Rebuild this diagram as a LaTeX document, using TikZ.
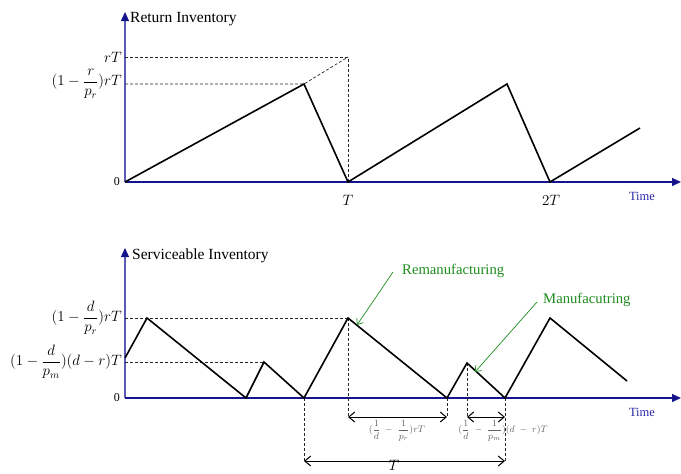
\RequirePackage{fix-cm}
\documentclass[tikz,border=0pt]{standalone}
\usepackage{amsmath}
\usepackage{fontspec}
\setmainfont{Liberation Serif}
\usetikzlibrary{arrows.meta}
\definecolor{axisblue}{RGB}{20,20,140}
\definecolor{yaxblue}{RGB}{90,90,180}
\definecolor{lblgreen}{RGB}{30,140,30}
\definecolor{timeblue}{RGB}{40,40,170}
\definecolor{dimgray}{RGB}{100,100,100}
\tikzset{
  xaxis/.style={axisblue,line width=1.3pt,-{Triangle[length=9pt,width=8pt,color=axisblue]}},
  yaxis/.style={yaxblue,line width=1.3pt,-{Triangle[length=9pt,width=8pt,color=axisblue]}},
  curve/.style={black,line width=1.6pt,line join=miter},
  guide/.style={black!85,line width=0.7pt,dash pattern=on 3pt off 2pt},
  dimarrow/.style={black,line width=1pt,{Straight Barb[length=6pt,width=10pt]}-{Straight Barb[length=6pt,width=10pt]}},
  callout/.style={lblgreen,line width=0.7pt,-{Straight Barb[length=5pt,width=8pt]}},
  axtitle/.style={font=\fontsize{15.5}{18}\selectfont,anchor=west,inner sep=0pt},
  ylab/.style={font=\fontsize{15}{18}\selectfont,anchor=east,inner sep=1pt},
  zerolab/.style={font=\fontsize{12}{14}\selectfont,anchor=east,inner sep=1pt},
  tlab/.style={font=\fontsize{15}{18}\selectfont,inner sep=0pt},
  timelab/.style={font=\fontsize{12.5}{14}\selectfont,text=timeblue,inner sep=0pt},
  greenlab/.style={font=\fontsize{14.7}{17}\selectfont,text=lblgreen,anchor=west,inner sep=0pt},
  smalllab/.style={font=\fontsize{9.5}{11}\selectfont,text=dimgray,inner sep=0pt}
}
\begin{document}
\begin{tikzpicture}[x=1pt,y=-1pt]
\useasboundingbox (0,0) rectangle (681,474);
% ---------- top panel ----------
\coordinate (o1) at (125,182);
\coordinate (y1top) at (125,12);
\coordinate (x1end) at (681,182);
\draw[yaxis] (o1) -- (y1top);
\draw[xaxis] (o1) -- (x1end);
\node[axtitle] (t1) at (130,19) {Return Inventory};
\coordinate (a1) at (304,84);
\coordinate (a2) at (348,182);
\coordinate (a3) at (507,84);
\coordinate (a4) at (550,182);
\coordinate (a5) at (640,128);
\coordinate (rt) at (348,57);
\coordinate (rty) at (125,57);
\coordinate (prty) at (125,84);
\draw[guide] (rty) -- (rt) -- (a2);
\draw[guide] (prty) -- (a1) -- (rt);
\draw[curve] (o1) -- (a1) -- (a2) -- (a3) -- (a4) -- (a5);
\node[ylab] (lrt) at (123,57) {$rT$};
\node[ylab] (lprt) at (123,84) {$(1-\dfrac{r}{p_r})rT$};
\node[zerolab] (z1) at (121,182) {0};
\node[tlab] (T1) at (348,200) {$T$};
\node[tlab] (T2) at (551,200) {$2T$};
\node[timelab] (tm1) at (642,196) {Time};
% ---------- bottom panel ----------
\coordinate (o2) at (125,398);
\coordinate (y2top) at (125,248);
\coordinate (x2end) at (681,398);
\draw[yaxis] (o2) -- (y2top);
\draw[xaxis] (o2) -- (x2end);
\node[axtitle] (t2) at (132,256) {Serviceable Inventory};
\coordinate (b0) at (125,358);
\coordinate (b1) at (147,318);
\coordinate (b2) at (246,398);
\coordinate (b3) at (264,362);
\coordinate (b4) at (304,398);
\coordinate (b5) at (348,318);
\coordinate (b6) at (447,398);
\coordinate (b7) at (467,363);
\coordinate (b8) at (505,398);
\coordinate (b9) at (550,318);
\coordinate (b10) at (627,381);
\coordinate (h1) at (125,318);
\coordinate (h2) at (125,362);
\draw[guide] (h1) -- (b5);
\draw[guide] (h2) -- (b3);
\coordinate (d5) at (348,417);
\coordinate (d6) at (447,417);
\coordinate (d7) at (467,417);
\coordinate (d8) at (505,417);
\coordinate (e4) at (304,461);
\coordinate (e8) at (505,461);
\draw[guide] (b5) -- (d5);
\draw[guide] (b6) -- (d6);
\draw[guide] (b7) -- (d7);
\draw[guide] (b8) -- (e8);
\draw[guide] (b4) -- (e4);
\draw[curve] (b0) -- (b1) -- (b2) -- (b3) -- (b4) -- (b5) -- (b6) -- (b7) -- (b8) -- (b9) -- (b10);
\draw[dimarrow] (d5) -- (d6);
\draw[dimarrow] (d7) -- (d8);
\draw[dimarrow] (e4) -- (e8);
\node[ylab] (lh1) at (123,318) {$(1-\dfrac{d}{p_r})rT$};
\node[ylab] (lh2) at (123,362) {$(1-\dfrac{d}{p_m})(d-r)T$};
\node[zerolab] (z2) at (121,398) {0};
\node[timelab] (tm2) at (642,412) {Time};
\node[smalllab] (m1) at (397,431) {$(\dfrac{1}{d}\;-\;\dfrac{1}{p_r})rT$};
\node[smalllab] (m2) at (503,431) {$(\dfrac{1}{d}\;-\;\dfrac{1}{p_m})(d\;-\;r)T$};
\node[tlab] (TT) at (394,465) {$T$};
\node[greenlab] (rem) at (402,271) {Remanufacturing};
\node[greenlab] (man) at (543,300) {Manufacutring};
\coordinate (remfrom) at (393,272);
\coordinate (remto) at (357,325);
\coordinate (manfrom) at (537,302);
\coordinate (manto) at (475,372);
\draw[callout] (remfrom) -- (remto);
\draw[callout] (manfrom) -- (manto);
\end{tikzpicture}
\end{document}
